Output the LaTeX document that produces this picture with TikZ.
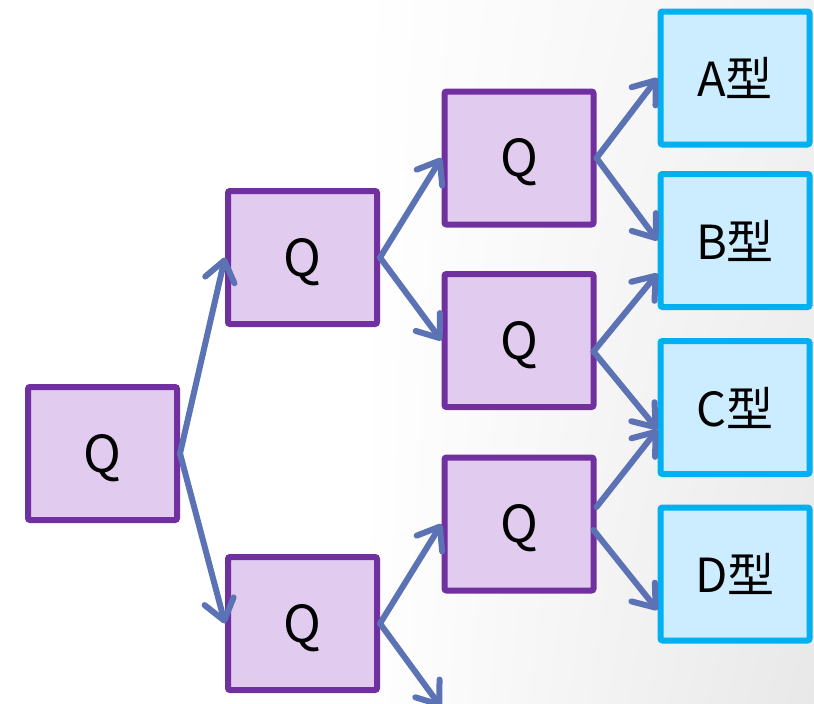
\documentclass[tikz,border=0pt]{standalone}
\usepackage{fontspec}
\setmainfont{Noto Sans CJK SC}
\usetikzlibrary{arrows.meta,shadings}
\definecolor{qfill}{HTML}{E1CCEF}
\definecolor{qline}{HTML}{7030A0}
\definecolor{tfill}{HTML}{CCECFF}
\definecolor{tline}{HTML}{00B0F0}
\definecolor{arr}{HTML}{5B72B4}
\newcommand{\qtext}{\raisebox{0pt}[37pt][0pt]{Q}}
\tikzset{
  qbox/.style={draw=qline, fill=qfill, line width=6pt, rounded corners=2pt,
    minimum width=149pt, minimum height=133pt, inner sep=0pt,
    font=\fontsize{51}{56}\selectfont},
  tbox/.style={draw=tline, fill=tfill, line width=6pt, rounded corners=2pt,
    minimum width=149pt, minimum height=133pt, inner sep=0pt,
    font=\fontsize{47}{56}\selectfont},
  link/.style={draw=arr, line width=6pt, line cap=round, line join=round,
    -{Straight Barb[length=20pt,width=30pt,round]}}
}
\begin{document}
\begin{tikzpicture}[x=1pt,y=-1pt]
\useasboundingbox (0,0) rectangle (814,704);
\clip (0,0) rectangle (814,704);
\fill[white] (0,0) rectangle (814,704);
\shade[upper left=white, lower left=white, upper right=black!5, lower right=black!9]
  (360,0) rectangle (814,704);
% nodes
\node[qbox] (q0)  at (102.5,453.5) {\qtext};
\node[qbox] (q1a) at (302.5,257.5) {\qtext};
\node[qbox] (q1b) at (302.5,623.5) {\qtext};
\node[qbox] (q2a) at (519,158)     {\qtext};
\node[qbox] (q2b) at (519,340.5)   {\qtext};
\node[qbox] (q2c) at (519,524)     {\qtext};
\node[tbox] (ta)  at (735,78)      {A型};
\node[tbox] (tb)  at (735,240.5)   {B型};
\node[tbox] (tc)  at (735,407.5)   {C型};
\node[tbox] (td)  at (735,574)     {D型};
\coordinate (off) at (441,707);
% connectors
\draw[link] (q0.east) -- (q1a.west);
\draw[link] (q0.east) -- (q1b.west);
\draw[link] (q1a.east) -- (q2a.west);
\draw[link] (q1a.east) -- (q2b.west);
\draw[link] (q1b.east) -- (q2c.west);
\draw[link] (q1b.east) -- (off);
\draw[link] (q2a.east) -- (ta.west);
\draw[link] (q2a.east) -- (tb.west);
\draw[link] ([xshift=-3pt,yshift=-11pt]q2b.east) -- ([yshift=-33pt]tb.west);
\draw[link] ([xshift=-3pt,yshift=-11pt]q2b.east) -- ([yshift=-22pt]tc.west);
\draw[link] ([yshift=17pt]q2c.east) -- ([yshift=-22pt]tc.west);
\draw[link] ([xshift=-3pt,yshift=-6pt]q2c.east) -- ([yshift=-36pt]td.west);
\end{tikzpicture}
\end{document}
